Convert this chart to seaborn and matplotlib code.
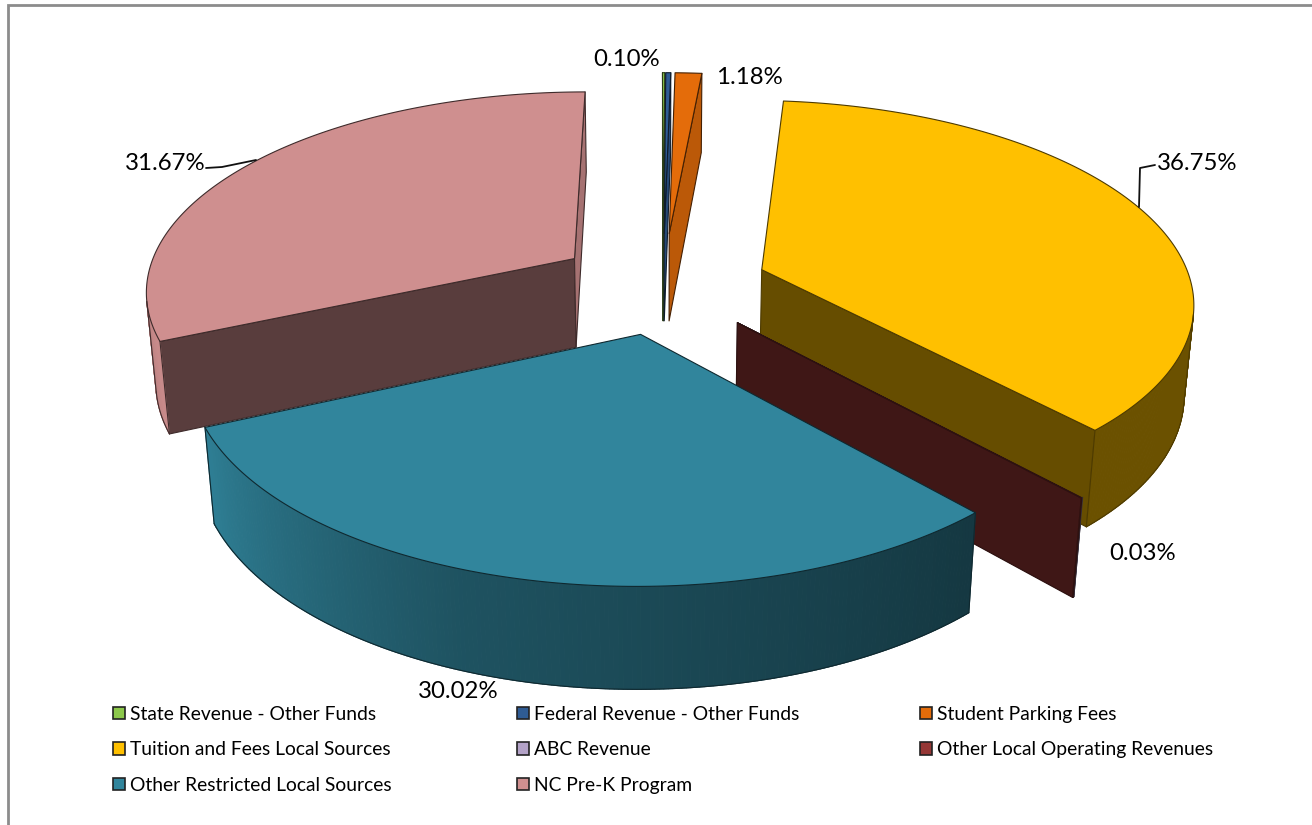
import numpy as np
import matplotlib
matplotlib.use("Agg")
import matplotlib.pyplot as plt
from matplotlib.patches import Patch
from matplotlib.colors import to_rgb
import seaborn as sns

# Revenue shares in percent, in drawing order clockwise from twelve o'clock
categories = ["State Revenue - Other Funds", "Federal Revenue - Other Funds", "Student Parking Fees",
              "Tuition and Fees Local Sources", "ABC Revenue", "Other Local Operating Revenues",
              "Other Restricted Local Sources", "NC Pre-K Program"]
shares = [0.10, 0.22, 1.18, 36.75, 0.03, 0.03, 30.02, 31.67]
slice_colors = ["#8CC84B", "#2F5C94", "#E46C0A", "#FFC000", "#B3A2C7", "#953735", "#31859C", "#CF8F8F"]

# Printed value labels
label_texts = ["0.10%", "1.18%", "36.75%", "0.03%", "30.02%", "31.67%"]

sns.set_theme(style="white", font="Lato")
palette = sns.color_palette(slice_colors)

W, H = 1312, 825
fig = plt.figure(figsize=(W / 100, H / 100), dpi=100)
ax = fig.add_axes([0, 0, 1, 1])
ax.set_xlim(0, W)
ax.set_ylim(H, 0)
ax.axis("off")

# Camera used to project the pie disc onto the canvas
CX, CY = 663, 285
SCALE, DIST = 430, 6.0
ELEV = np.radians(27.5)
THICK = 0.24
ROTATION = -0.1
# How far each slice is pulled from the hub, in pie radii
explode = [0.27, 0.27, 0.27, 0.245, 0.25, 0.25, 0.245, 0.25]


def project(x, y, z):
    depth = DIST + y * np.cos(ELEV) - z * np.sin(ELEV)
    up = y * np.sin(ELEV) + z * np.cos(ELEV)
    s = SCALE * DIST / depth
    return CX + x * s, CY - up * s


def signed_area(pts):
    p = np.asarray(pts)
    x, y = p[:, 0], p[:, 1]
    return 0.5 * np.sum(x * np.roll(y, -1) - np.roll(x, -1) * y)


def shaded(color, factor):
    return tuple(np.clip(np.array(to_rgb(color)) * factor, 0, 1))


def wall_factor(theta):
    return np.interp(theta, [138, 200, 248, 262, 360], [0.42, 0.62, 0.97, 0.88, 0.85])


EDGE = dict(linewidth=0.8, joinstyle="round")
fracs = np.asarray(shares) / np.sum(shares)
bounds = ROTATION + 360 * np.concatenate([[0], np.cumsum(fracs)])


def draw_slice(i):
    t0, t1 = bounds[i], bounds[i + 1]
    color = palette[i]
    mid = np.radians((t0 + t1) / 2)
    ox, oy = explode[i] * np.sin(mid), explode[i] * np.cos(mid)
    angles = np.radians(np.linspace(t0, t1, max(3, int((t1 - t0) * 2))))
    rim_x, rim_y = ox + np.sin(angles), oy + np.cos(angles)
    top = [project(x, y, 0) for x, y in zip(rim_x, rim_y)]
    low = [project(x, y, -THICK) for x, y in zip(rim_x, rim_y)]
    hub_top, hub_low = project(ox, oy, 0), project(ox, oy, -THICK)
    dark = shaded(color, 0.3)

    # Straight cut faces, shown only when they turn toward the camera
    start = [hub_top, top[0], low[0], hub_low]
    end = [hub_top, top[-1], low[-1], hub_low]
    side_factor = {3: 0.4, 5: 0.42, 7: 0.43, 2: 0.82, 1: 0.8, 0: 0.8}.get(i, 0.6)
    if signed_area(start) < 0:
        ax.fill(*zip(*start), facecolor=shaded(color, side_factor if i == 7 else 0.8),
                edgecolor=dark, **EDGE)
    if signed_area(end) > 0:
        ax.fill(*zip(*end), facecolor=shaded(color, 0.8 if i == 7 else side_factor),
                edgecolor=dark, **EDGE)

    # Curved outer wall built from narrow quads so its shade can vary along the rim
    shown = []
    for j in range(len(angles) - 1):
        quad = [top[j], top[j + 1], low[j + 1], low[j]]
        if signed_area(quad) < 0:
            theta = np.degrees(angles[j])
            fc = shaded(color, wall_factor(theta))
            ax.fill(*zip(*quad), facecolor=fc, edgecolor=fc, linewidth=0.8)
            shown.append(j)
    if shown:
        edge_low = [low[j] for j in shown] + [low[shown[-1] + 1]]
        ax.plot(*zip(*edge_low), color=dark, lw=0.8)
        for j in (shown[0], shown[-1] + 1):
            ax.plot(*zip(top[j], low[j]), color=dark, lw=0.8)

    # Top face
    ax.fill(*zip(*([hub_top] + top)), facecolor=color, edgecolor=dark, **EDGE)


# Far slices first so nearer ones overlap them
for idx in [7, 0, 1, 2, 4, 3, 5, 6]:
    draw_slice(idx)

# Value labels and their leader lines
label_spots = [(627, 60), (749, 77), (1197, 164), (1143, 554), (458, 692), (165, 163)]
for text, (lx, ly) in zip(label_texts, label_spots):
    ax.text(lx, ly, text, ha="center", va="center", fontsize=17.3, color="black")
ax.plot([1155, 1140, 1139], [165, 168, 207], color="#111111", lw=1.3)
ax.plot([206, 222, 256], [168, 167, 160], color="#111111", lw=1.3)

# Chart frame: only the top and left rules fall inside the canvas
ax.plot([W, 8, 8], [4.5, 4.5, H], color="#8c8c8c", lw=2, solid_joinstyle="miter")

# Legend, laid out as three independent columns
columns = {113: [0, 3, 6], 517: [1, 4, 7], 920: [2, 5]}
for n, (x_left, members) in enumerate(columns.items()):
    handles = [Patch(facecolor=palette[m], edgecolor="#222222", linewidth=1.2) for m in members]
    leg = ax.legend(handles, [categories[m] for m in members], loc="upper left",
                    bbox_to_anchor=(x_left, 706), bbox_transform=ax.transData,
                    frameon=False, fontsize=13.85, borderpad=0, borderaxespad=0,
                    handlelength=0.6, handleheight=0.6, handletextpad=0.3,
                    labelspacing=0.95, labelcolor="black")
    if n < len(columns) - 1:
        ax.add_artist(leg)

fig.savefig("out.png", dpi=100, facecolor="white")
